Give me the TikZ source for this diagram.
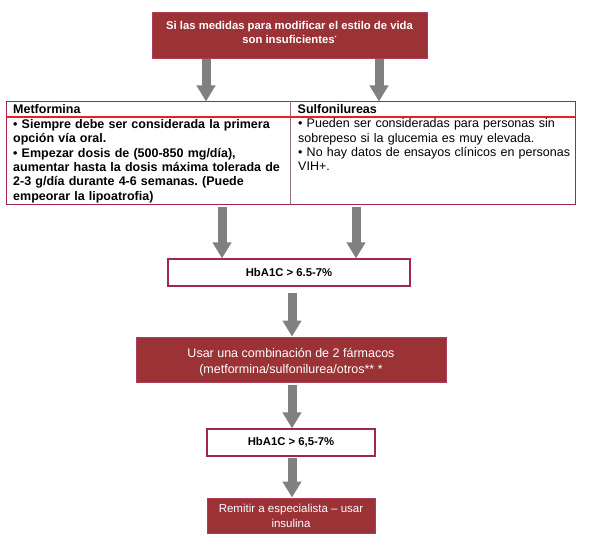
\documentclass[tikz,border=0pt]{standalone}
\usepackage{fontspec}
\setmainfont{Liberation Sans}
\usetikzlibrary{arrows.meta}
\frenchspacing
\definecolor{boxred}{RGB}{154,50,54}
\definecolor{boxedge}{RGB}{176,60,90}
\definecolor{edgered}{RGB}{160,40,75}
\definecolor{linered}{RGB}{232,30,40}
\definecolor{divgray}{RGB}{150,110,120}
\definecolor{arrowgray}{RGB}{128,128,128}
\tikzset{
  darkbox/.style={fill=boxred, draw=boxedge, line width=0.8pt, inner sep=0pt},
  boxtext/.style={text=white, align=center, inner sep=0pt},
  whitebox/.style={fill=white, draw=edgered, line width=1.2pt, align=center, inner sep=0pt,
    font=\fontsize{11.3}{13}\selectfont\bfseries},
  bigarrow/.style={draw=arrowgray, line width=9pt, -{Triangle[length=16pt,width=18pt]}},
  coltext/.style={anchor=north west, inner sep=0pt, align=left, text width=275pt,
    font=\fontsize{12.5}{14.4}\selectfont},
  headtext/.style={anchor=base west, inner sep=0pt, font=\fontsize{12.5}{14.4}\selectfont\bfseries}
}
\begin{document}
\begin{tikzpicture}[x=1pt,y=-1pt]
\useasboundingbox (0,0) rectangle (590,556);
% top box
\node[darkbox, minimum width=275pt, minimum height=46pt] (top) at (289.5,35) {};
\node[boxtext, font=\fontsize{11.3}{14}\selectfont\bfseries] (toptxt) at (289.5,32.5)
  {Si las medidas para modificar el estilo de vida\\son insuficientes\raisebox{4pt}{\fontsize{5}{5}\selectfont *}};
% table
\node[draw=edgered, line width=1pt, minimum width=569pt, minimum height=103pt, inner sep=0pt] (tab) at (290.5,153.5) {};
\coordinate (hl) at (0,117);
\coordinate (dv) at (290,0);
\draw[divgray, line width=1pt] (tab.north -| dv) -- (tab.south -| dv);
\draw[linered, line width=1.2pt] (tab.west |- hl) -- (tab.east |- hl);
\node[headtext] (mh) at (13,114) {Metformina};
\node[headtext] (sh) at (297.5,114) {Sulfonilureas};
\node[coltext, font=\fontsize{12.5}{14.4}\selectfont\bfseries] (mb) at (13,119)
  {• Siempre debe ser considerada la primera\\
   opción vía oral.\\
   • Empezar dosis de (500-850 mg/día),\\
   aumentar hasta la dosis máxima tolerada de\\
   2-3 g/día durante 4-6 semanas. (Puede\\
   empeorar la lipoatrofia)};
\node[coltext, text width=270pt] (sb) at (298,118.5)
  {\makebox[270pt][s]{• Pueden ser consideradas para personas sin}\\
   sobrepeso si la glucemia es muy elevada.\\
   \makebox[270pt][s]{• No hay datos de ensayos clínicos en personas}\\
   VIH+.};
% HbA1C 1
\node[whitebox, minimum width=242pt, minimum height=27pt] (h1) at (289,272.5) {HbA1C > 6.5-7\%};
% combination
\node[darkbox, minimum width=310pt, minimum height=45pt] (comb) at (291,359.5) {};
\node[boxtext, font=\fontsize{12.5}{16}\selectfont] (combtxt) at (291,362)
  {Usar una combinación de 2 fármacos\\(metformina/sulfonilurea/otros** *};
% HbA1C 2
\node[whitebox, minimum width=168pt, minimum height=27pt] (h2) at (291,442.5) {HbA1C > 6,5-7\%};
% final
\node[darkbox, minimum width=168pt, minimum height=35pt] (fin) at (291,515.5) {};
\node[boxtext, font=\fontsize{11.5}{15}\selectfont] (fintxt) at (291,515.5)
  {Remitir a especialista – usar\\insulina};
% arrows
\coordinate (a1) at (206,0);
\coordinate (a2) at (379,0);
\coordinate (a3) at (222,0);
\coordinate (a4) at (356,0);
\coordinate (a5) at (292,0);
\draw[bigarrow] ([yshift=-1pt]top.south -| a1) -- (tab.north -| a1);
\draw[bigarrow] ([yshift=-1pt]top.south -| a2) -- (tab.north -| a2);
\draw[bigarrow] ([yshift=-2pt]tab.south -| a3) -- (h1.north -| a3);
\draw[bigarrow] ([yshift=-2pt]tab.south -| a4) -- (h1.north -| a4);
\draw[bigarrow] ([yshift=-6pt]h1.south -| a5) -- (comb.north -| a5);
\draw[bigarrow] ([yshift=-3pt]comb.south -| a5) -- (h2.north -| a5);
\draw[bigarrow] ([yshift=-1pt]h2.south -| a5) -- (fin.north -| a5);
\end{tikzpicture}
\end{document}
